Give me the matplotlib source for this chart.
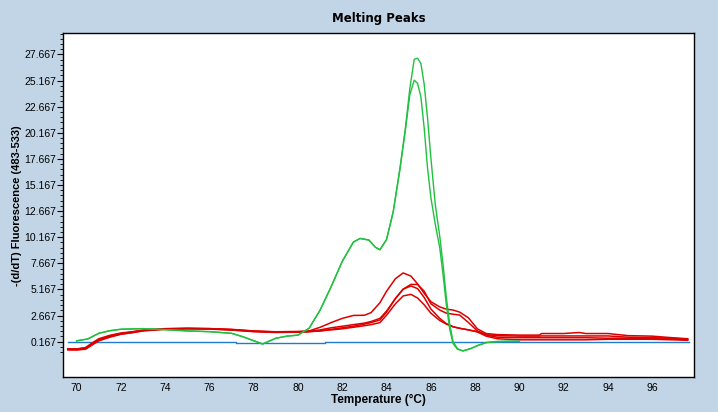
import numpy as np
import matplotlib
matplotlib.use('Agg')
import matplotlib.pyplot as plt
from matplotlib.ticker import FixedLocator

# ---- data ----
temp_green = [70.0, 70.5, 71.0, 71.5, 72.0, 73.0, 74.0, 75.0, 76.0, 77.0, 77.5, 78.0,
              78.4, 79.0, 79.5, 80.0, 80.5, 81.0, 81.5, 82.0, 82.5, 82.8, 83.2, 83.5,
              83.7, 84.0, 84.3, 84.6, 84.85, 85.05, 85.25, 85.4, 85.55, 85.7, 85.85,
              86.0, 86.2, 86.4, 86.55, 86.7, 86.85, 87.0, 87.2, 87.45, 87.8, 88.1,
              88.5, 89.0, 89.5, 90.0]
green_a = [0.25, 0.43, 0.97, 1.22, 1.36, 1.42, 1.32, 1.2, 1.13, 0.97, 0.65, 0.26,
           -0.05, 0.5, 0.7, 0.8, 1.45, 3.2, 5.45, 7.86, 9.7, 10.05, 9.9, 9.2,
           8.97, 9.95, 12.6, 16.7, 20.6, 24.4, 27.2, 27.3, 26.8, 24.8, 21.6,
           17.8, 13.3, 10.3, 7.6, 4.4, 1.9, 0.2, -0.5, -0.73, -0.5, -0.22,
           0.07, 0.17, 0.2, 0.2]
green_b = [0.25, 0.43, 0.97, 1.22, 1.36, 1.42, 1.32, 1.2, 1.13, 0.97, 0.65, 0.26,
           -0.05, 0.5, 0.7, 0.8, 1.45, 3.2, 5.45, 7.86, 9.7, 10.05, 9.9, 9.2,
           8.97, 9.95, 12.6, 16.6, 20.4, 23.8, 25.2, 24.9, 23.6, 20.6, 16.8,
           14.0, 11.4, 9.2, 6.6, 3.7, 1.4, 0.0, -0.55, -0.7, -0.48, -0.2,
           0.1, 0.2, 0.22, 0.22]

temp_red = [69.6, 70.0, 70.4, 70.7, 71.0, 71.5, 72.0, 72.5, 73.0, 74.0, 75.0, 76.0,
            77.0, 78.0, 79.0, 80.0, 80.5, 81.0, 81.5, 82.0, 82.5, 83.0, 83.3, 83.7,
            84.0, 84.4, 84.75, 85.1, 85.4, 85.7, 86.0, 86.4, 86.7, 87.0, 87.3, 87.7,
            88.1, 88.5, 89.0, 90.0, 90.9, 91.0, 92.0, 92.7, 93.0, 94.0, 94.9, 96.0,
            96.9, 97.6]
red_1 = [-0.55, -0.55, -0.4, 0.05, 0.45, 0.78, 1.0, 1.12, 1.28, 1.42, 1.45, 1.42,
         1.35, 1.2, 1.12, 1.15, 1.2, 1.55, 2.0, 2.4, 2.68, 2.7, 2.95, 3.9,
         5.0, 6.2, 6.75, 6.45, 5.7, 4.8, 4.0, 3.5, 3.28, 3.2, 3.0, 2.45,
         1.4, 0.95, 0.85, 0.8, 0.8, 0.95, 0.95, 1.05, 0.95, 0.95, 0.75, 0.7,
         0.55, 0.45]
red_2 = [-0.6, -0.6, -0.5, -0.1, 0.3, 0.65, 0.9, 1.05, 1.22, 1.38, 1.42, 1.4,
         1.3, 1.15, 1.08, 1.1, 1.15, 1.3, 1.5, 1.65, 1.8, 1.95, 2.1, 2.4,
         3.1, 4.3, 5.2, 5.65, 5.65, 5.0, 3.8, 3.2, 2.9, 2.8, 2.72, 2.0,
         1.2, 0.85, 0.75, 0.7, 0.7, 0.72, 0.72, 0.72, 0.72, 0.72, 0.6, 0.55,
         0.5, 0.4]
red_3 = [-0.5, -0.52, -0.42, -0.05, 0.35, 0.7, 0.95, 1.1, 1.25, 1.4, 1.45, 1.42,
         1.33, 1.18, 1.1, 1.12, 1.15, 1.2, 1.35, 1.5, 1.65, 1.85, 2.0, 2.25,
         3.0, 4.3, 5.2, 5.5, 5.25, 4.4, 3.3, 2.4, 1.9, 1.6, 1.45, 1.3,
         1.13, 0.8, 0.6, 0.55, 0.55, 0.55, 0.55, 0.55, 0.55, 0.5, 0.5, 0.5,
         0.45, 0.35]
red_4 = [-0.6, -0.62, -0.55, -0.15, 0.25, 0.6, 0.88, 1.02, 1.2, 1.36, 1.4, 1.38,
         1.28, 1.13, 1.05, 1.08, 1.12, 1.2, 1.3, 1.4, 1.55, 1.7, 1.8, 2.0,
         2.7, 3.8, 4.55, 4.7, 4.35, 3.7, 2.9, 2.2, 1.85, 1.6, 1.45, 1.3,
         1.1, 0.7, 0.45, 0.35, 0.35, 0.35, 0.35, 0.35, 0.35, 0.4, 0.4, 0.4,
         0.35, 0.3]

temp_blue = [69.6, 77.2, 77.2, 81.2, 81.2, 97.65]
blue = [0.15, 0.15, 0.07, 0.07, 0.13, 0.13]

x_ticks = [70, 72, 74, 76, 78, 80, 82, 84, 86, 88, 90, 92, 94, 96]
y_ticks = [0.167, 2.667, 5.167, 7.667, 10.167, 12.667, 15.167, 17.667,
           20.167, 22.667, 25.167, 27.667]

bg = '#C2D5E6'
fig = plt.figure(figsize=(7.18, 4.12), dpi=100)
fig.patch.set_facecolor(bg)
ax = fig.add_axes([0.0882, 0.0842, 0.967 - 0.0882, 0.919 - 0.0842])
ax.set_facecolor('white')

ax.plot(temp_blue, blue, color='#1F7BD0', lw=1.0, zorder=2)
for r in (red_4, red_3, red_2, red_1):
    ax.plot(temp_red, r, color='#DD0000', lw=1.1, zorder=3)
for g in (green_a, green_b):
    ax.plot(temp_green, g, color='#22C040', lw=1.0, zorder=4)

ax.set_xlim(69.4, 97.9)
ax.set_ylim(-3.24, 29.68)

ax.xaxis.set_major_locator(FixedLocator(x_ticks))
ax.set_xticklabels([str(t) for t in x_ticks])
ax.yaxis.set_major_locator(FixedLocator(y_ticks))
ax.set_yticklabels(['%.3f' % t for t in y_ticks])
ax.yaxis.set_minor_locator(FixedLocator([0.167 + 0.5 * k for k in range(-2, 60)]))

ax.tick_params(axis='x', length=0, pad=4, labelsize=7.5)
ax.tick_params(axis='y', which='major', length=4, width=0.8, pad=1, labelsize=7.5)
ax.tick_params(axis='y', which='minor', length=2, width=0.6)
for lbl in ax.get_xticklabels() + ax.get_yticklabels():
    lbl.set_family('Liberation Sans')

for s in ax.spines.values():
    s.set_linewidth(1.0)
    s.set_color('black')

fig.text(0.527, 0.956, 'Melting Peaks', ha='center', va='center',
         fontsize=8.5, fontweight='bold', family='DejaVu Sans')
ax.set_xlabel('Temperature (°C)', fontsize=8.5, fontweight='bold',
              family='Liberation Sans', labelpad=1)
ax.set_ylabel('-(d/dT) Fluorescence (483-533)', fontsize=8, fontweight='bold',
              family='Liberation Sans', labelpad=2)

fig.savefig('out.png', dpi=100, facecolor=bg)
